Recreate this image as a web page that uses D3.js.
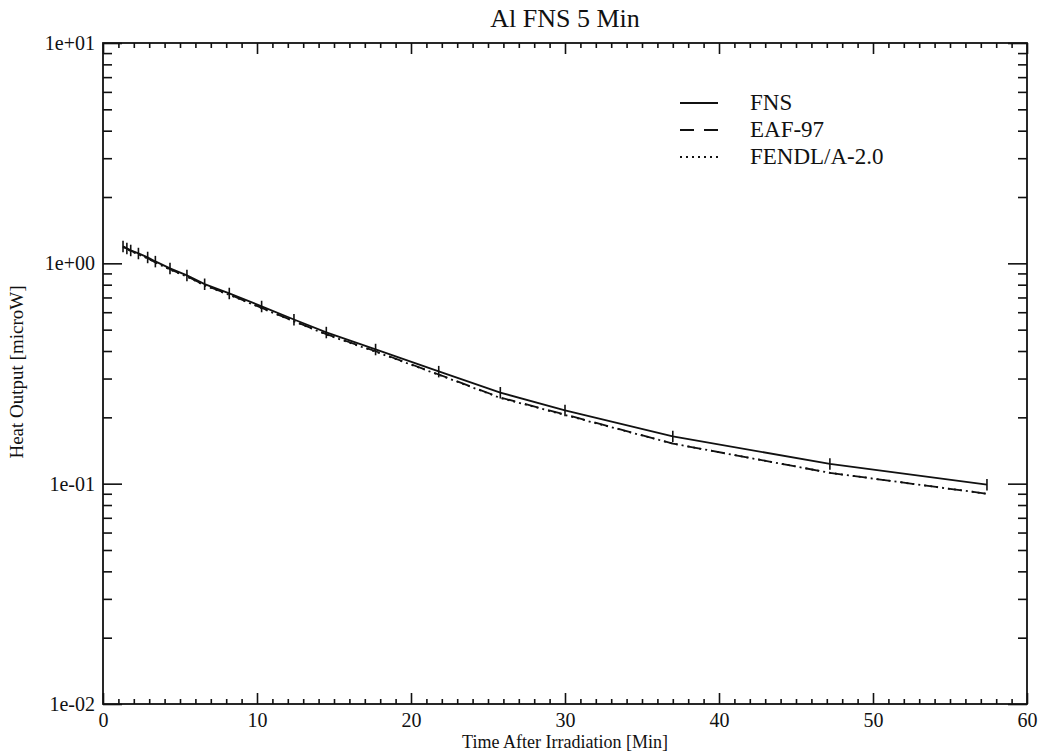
<!DOCTYPE html>
<html>
<head>
<meta charset="utf-8">
<script src="https://cdn.jsdelivr.net/npm/d3@7"></script>
<style>
  body { margin: 0; background: #fff; }
  svg { display: block; }
</style>
</head>
<body>
<div id="chart"></div>
<script>
// data
var times = [1.3, 1.55, 1.8, 2.3, 2.9, 3.4, 4.35, 5.45, 6.6, 8.2, 10.3, 12.4, 14.5, 17.7, 21.8, 25.8, 30.0, 37.0, 47.2, 57.4];
var fns = [1.195, 1.17, 1.146, 1.11, 1.065, 1.02, 0.949, 0.882, 0.805, 0.731, 0.638, 0.556, 0.486, 0.407, 0.323, 0.259, 0.215, 0.164, 0.123, 0.099];
var eaf97 = [1.19, 1.165, 1.14, 1.10, 1.055, 1.01, 0.94, 0.873, 0.796, 0.722, 0.628, 0.547, 0.477, 0.399, 0.313, 0.246, 0.206, 0.152, 0.112, 0.090];
var fendl = [1.185, 1.16, 1.138, 1.098, 1.052, 1.008, 0.937, 0.870, 0.793, 0.719, 0.626, 0.545, 0.475, 0.397, 0.312, 0.245, 0.205, 0.152, 0.112, 0.090];
var fnsErr = 0.06; // relative error on FNS points
var seriesNames = ["FNS", "EAF-97", "FENDL/A-2.0"];
var xMajor = [0, 10, 20, 30, 40, 50, 60];
var yMajor = [0.01, 0.1, 1, 10];
var yLabels = ["1e-02", "1e-01", "1e+00", "1e+01"];

var svgWidth = 1045;
var svgHeight = 756;
var plot = { left: 103, right: 1027, top: 43, bottom: 704 };
var serif = "Liberation Serif, Times New Roman, serif";

var svg = d3.select("#chart")
  .append("svg")
  .attr("width", svgWidth)
  .attr("height", svgHeight);

svg.append("rect")
  .attr("width", svgWidth)
  .attr("height", svgHeight)
  .attr("fill", "#fff");

var xScale = d3.scaleLinear().domain([0, 60]).range([plot.left, plot.right]);
var yScale = d3.scaleLog().domain([0.01, 10]).range([plot.bottom, plot.top]);

var xMinor = d3.range(0, 61, 1).filter(d => d % 10 !== 0);
var yMinor = [];
[0.01, 0.1, 1].forEach(function(dec) {
  for (var k = 2; k <= 9; k++) yMinor.push(dec * k);
});

function clean(g) {
  g.select(".domain").remove();
  g.selectAll(".tick line").attr("stroke", "#111").attr("stroke-width", 1.6);
  g.selectAll(".tick text").attr("font-family", serif).attr("fill", "#111");
}

// bottom axis
svg.append("g")
  .attr("transform", `translate(0, ${plot.bottom})`)
  .call(d3.axisBottom(xScale).tickValues(xMinor).tickSize(-5).tickFormat(""))
  .call(clean);
svg.append("g")
  .attr("transform", `translate(0, ${plot.bottom})`)
  .call(d3.axisBottom(xScale).tickValues(xMajor).tickSize(-11).tickPadding(9).tickFormat(d3.format("d")))
  .call(clean)
  .selectAll("text").attr("font-size", 20);

// top axis
svg.append("g")
  .attr("transform", `translate(0, ${plot.top})`)
  .call(d3.axisTop(xScale).tickValues(xMinor).tickSize(-5).tickFormat(""))
  .call(clean);
svg.append("g")
  .attr("transform", `translate(0, ${plot.top})`)
  .call(d3.axisTop(xScale).tickValues(xMajor).tickSize(-11).tickFormat(""))
  .call(clean);

// left axis
svg.append("g")
  .attr("transform", `translate(${plot.left}, 0)`)
  .call(d3.axisLeft(yScale).tickValues(yMinor).tickSize(-9).tickFormat(""))
  .call(clean);
svg.append("g")
  .attr("transform", `translate(${plot.left}, 0)`)
  .call(d3.axisLeft(yScale).tickValues(yMajor).tickSize(-19).tickPadding(8)
    .tickFormat((d, i) => yLabels[i]))
  .call(clean)
  .selectAll("text").attr("font-size", 20);

// right axis
svg.append("g")
  .attr("transform", `translate(${plot.right}, 0)`)
  .call(d3.axisRight(yScale).tickValues(yMinor).tickSize(-9).tickFormat(""))
  .call(clean);
svg.append("g")
  .attr("transform", `translate(${plot.right}, 0)`)
  .call(d3.axisRight(yScale).tickValues(yMajor).tickSize(-19).tickFormat(""))
  .call(clean);

// frame
svg.append("rect")
  .attr("x", plot.left)
  .attr("y", plot.top)
  .attr("width", plot.right - plot.left)
  .attr("height", plot.bottom - plot.top)
  .attr("fill", "none")
  .attr("stroke", "#111")
  .attr("stroke-width", 1.8);

var line = d3.line()
  .x(d => xScale(d[0]))
  .y(d => yScale(d[1]));

var styles = [
  { dash: null },
  { dash: "14,10" },
  { dash: "2,4" }
];
var series = [fns, eaf97, fendl];

series.forEach(function(vals, i) {
  svg.append("path")
    .datum(times.map((t, j) => [t, vals[j]]))
    .attr("d", line)
    .attr("fill", "none")
    .attr("stroke", "#111")
    .attr("stroke-width", 1.8)
    .attr("stroke-dasharray", styles[i].dash);
});

// FNS error bars
svg.selectAll(".errbar")
  .data(times.map((t, j) => [t, fns[j]]))
  .enter()
  .append("line")
  .attr("class", "errbar")
  .attr("x1", d => xScale(d[0]))
  .attr("x2", d => xScale(d[0]))
  .attr("y1", d => yScale(d[1] * (1 + fnsErr)))
  .attr("y2", d => yScale(d[1] * (1 - fnsErr)))
  .attr("stroke", "#111")
  .attr("stroke-width", 1.6);

// legend
var legend = svg.append("g");
seriesNames.forEach(function(name, i) {
  var ly = 103 + i * 27;
  legend.append("line")
    .attr("x1", 680).attr("x2", 718)
    .attr("y1", ly).attr("y2", ly)
    .attr("stroke", "#111")
    .attr("stroke-width", 1.8)
    .attr("stroke-dasharray", styles[i].dash);
  legend.append("text")
    .attr("x", 750)
    .attr("y", ly + 7)
    .attr("font-family", serif)
    .attr("font-size", 23)
    .attr("fill", "#111")
    .text(name);
});

// title and axis titles
svg.append("text")
  .attr("x", (plot.left + plot.right) / 2)
  .attr("y", 27)
  .attr("text-anchor", "middle")
  .attr("font-family", serif)
  .attr("font-size", 26)
  .attr("fill", "#111")
  .text("Al FNS 5 Min");

svg.append("text")
  .attr("x", (plot.left + plot.right) / 2)
  .attr("y", 748)
  .attr("text-anchor", "middle")
  .attr("font-family", serif)
  .attr("font-size", 18)
  .attr("fill", "#111")
  .text("Time After Irradiation [Min]");

svg.append("text")
  .attr("transform", "rotate(-90)")
  .attr("x", -372)
  .attr("y", 23)
  .attr("text-anchor", "middle")
  .attr("font-family", serif)
  .attr("font-size", 19)
  .attr("fill", "#111")
  .text("Heat Output [microW]");
</script>
</body>
</html>
